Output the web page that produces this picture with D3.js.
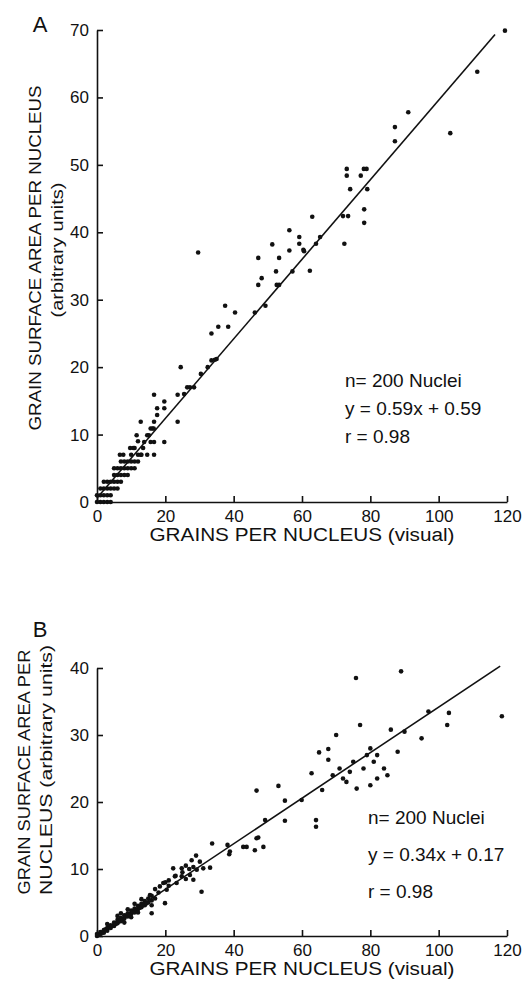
<!DOCTYPE html>
<html>
<head lang="en">
    <meta charset="UTF-8">
    <script src="https://cdn.jsdelivr.net/npm/d3@7/dist/d3.min.js"></script>
    <style>
        body { margin: 0; background: #fff; }
        svg { display: block; font-family: "Liberation Sans", Arial, sans-serif; }
        .axis path, .axis line { stroke: #111; stroke-width: 1.6; }
        .axis text { font-size: 17px; fill: #111; }
    </style>
</head>
<body>
<svg width="527" height="989"></svg>
<script>
    // panel A: grains (visual) vs grain surface area
    var xTicks = [0, 20, 40, 60, 80, 100, 120];
    var yTicksA = [0, 10, 20, 30, 40, 50, 60, 70];
    var yTicksB = [0, 10, 20, 30, 40];

    var pointsA = [
        [0, 0], [1, 0], [1, 1], [2, 0], [2, 1], [2, 2], [3, 1], [3, 2], [3, 3], [4, 1], [4, 2], [4, 3],
        [5, 2], [5, 3], [5, 4], [6, 2], [6, 3], [6, 4], [7, 3], [7, 4], [7, 5], [8, 4], [8, 5], [8, 6],
        [9, 4], [9, 5], [9, 6], [10, 5], [10, 6], [11, 5], [11, 6], [12, 6], [12, 7], [13, 7], [3, 0],
        [4, 0], [6, 5], [1, 2], [0, 1], [2, 3], [5, 5], [7, 6], [10, 7], [11, 8], [12, 9],
        [6.7, 7], [7.7, 7], [12.8, 7], [14.7, 7], [16.7, 7], [9.7, 8], [10.6, 8], [13.5, 8],
        [13.8, 8.9], [15.7, 8.9], [16.7, 8.9], [19.7, 8.9], [11.6, 9.9], [14.7, 9.9], [15.2, 9.9],
        [15.7, 10.9], [16.2, 10.9], [16.6, 10.9], [12.8, 11.9], [16.7, 11.9], [17.6, 12.9],
        [17.6, 13.9], [19.7, 13.9], [19.7, 14.9], [16.7, 15.9], [23.6, 15.9], [23.6, 11.9],
        [25.5, 16], [26.4, 17], [27.2, 17], [28.4, 17], [24.5, 20], [30.4, 19], [32.4, 20],
        [33.5, 21], [34.5, 21.1], [35, 21.2], [33.5, 25], [35.5, 26], [38.4, 26], [37.5, 29.1],
        [40.4, 28.1], [29.6, 37], [46.2, 28.1], [49.3, 29.1], [48.2, 33.2], [47.2, 32.2],
        [52.6, 32.2], [53.3, 32.2], [52.4, 34.2], [57.2, 34.2], [62.3, 34.3], [47.2, 36.2],
        [53.3, 36.2], [51.3, 38.2], [56.3, 37.3], [60.6, 37.2], [59.2, 38.3], [59.2, 39.3],
        [56.3, 40.3], [64.1, 38.3], [65.3, 39.3], [63, 42.3], [72.4, 38.3], [72, 42.4],
        [73.5, 42.4], [78.2, 41.4], [78.2, 43.4], [74.1, 46.4], [79.1, 46.4], [73.1, 48.4],
        [73.1, 49.4], [77.2, 48.4], [78.1, 49.4], [78.9, 49.4], [87.2, 53.5], [87.2, 55.6],
        [91.1, 57.8], [103.4, 54.7], [111.3, 63.8], [119.4, 69.9], [60.4, 37.4]
    ];

    var pointsB = [
        [0, 0], [0, 0.3], [0.5, 0.2], [1, 0.3], [1, 0.6], [1.5, 0.5], [2, 0.5], [2, 0.9], [2.5, 1],
        [3, 0.8], [3, 1.2], [3.5, 1.3], [4, 1.2], [4, 1.6], [4.5, 1.5], [5, 1.5], [5, 2], [5.5, 1.8],
        [6, 1.9], [6, 2.4], [6.5, 2.2], [7, 2.2], [7, 2.7], [7.5, 2.5], [8, 2.6], [8, 3.1], [8.5, 3],
        [9, 2.9], [9, 3.4], [9.5, 3.2], [10, 3.3], [10, 3.8], [10.5, 3.6], [11, 3.5], [11, 4.1],
        [11.5, 3.9], [12, 4], [12, 4.5], [12.5, 4.2], [13, 4.3], [13, 4.8], [13.5, 4.6], [14, 4.6],
        [14, 5.2], [15, 5], [15, 5.6], [3, 1.8], [6, 3], [8, 2], [10, 2.8], [12, 3.5], [9, 4],
        [7, 3.4], [11, 4.8], [13, 5.5], [16, 5.3], [16, 6],
        [14.5, 4.9], [15.5, 6.1], [17, 5.6], [16, 4.6], [16, 3.4], [18.4, 7.4], [19.4, 7.9],
        [20.4, 6.9], [19.9, 4.9], [23.3, 7.9], [22.8, 8.9], [24.8, 8.9], [27.2, 9.1], [28.2, 8.4],
        [22.3, 10.1], [24.8, 10.1], [27.7, 11.3], [28.2, 10.3], [29.2, 9.9], [30.1, 11.1],
        [31.1, 10.1], [33.1, 10.2], [30.6, 6.6], [33.7, 13.8], [38.2, 13.6], [38.7, 12.2],
        [38.9, 12.6], [42.8, 13.3], [43.8, 13.3], [46.2, 12.8], [46.7, 14.6], [48.7, 13.3],
        [47.2, 14.7], [20, 8], [21, 7.5], [18, 6.5], [17, 7], [25, 9.5], [26, 10.5], [23, 9],
        [21, 8.3], [29, 12], [27, 10], [26, 8.5],
        [49.2, 17.3], [55, 17.2], [64.1, 17.3], [64.1, 16.3], [55, 20.2], [59.9, 20.3],
        [46.7, 21.7], [53.1, 22.4], [65.9, 21.8], [62.8, 24.3], [65, 27.4], [67.7, 27.9],
        [67.7, 26.3], [75.8, 38.5], [89, 39.5], [103, 33.3], [102.5, 31.5], [118.5, 32.8],
        [69, 24], [71, 25], [72, 23.5], [70, 30], [74, 24.5], [75, 26], [76, 22], [78, 25],
        [79, 27], [80, 28], [81, 26], [82, 23.5], [84, 25], [86, 30.8], [88, 27.5], [90, 30.5],
        [82, 27], [77, 31.5], [73, 23], [85, 24], [95, 29.5], [97, 33.5], [80, 22.5]
    ];

    var statsA = ['n= 200 Nuclei', 'y = 0.59x + 0.59', 'r = 0.98'];
    var statsB = ['n= 200 Nuclei', 'y = 0.34x + 0.17', 'r = 0.98'];
    var fitA = {slope: 0.59, intercept: 0.59, xmax: 116.5};
    var fitB = {slope: 0.34, intercept: 0.17, xmax: 118};

    var svg = d3.select('svg');

    function drawPanel(p) {
        var g = svg.append('g');
        var x = d3.scaleLinear().domain([0, 120]).range([97, 507]);
        var y = d3.scaleLinear().domain([0, p.ymax]).range([p.bottom, p.top]);

        g.append('g')
            .attr('class', 'axis')
            .attr('transform', 'translate(0,' + p.bottom + ')')
            .call(d3.axisBottom(x).tickValues(xTicks).tickSizeInner(-6).tickSizeOuter(0).tickPadding(6))
            .call(function (a) { a.selectAll('text').attr('dy', '0.8em'); });

        g.append('g')
            .attr('class', 'axis')
            .attr('transform', 'translate(97,0)')
            .call(d3.axisLeft(y).tickValues(p.yTicks).tickSizeInner(-6).tickSizeOuter(0).tickPadding(8));

        g.append('line')
            .attr('x1', x(0)).attr('y1', y(p.fit.intercept))
            .attr('x2', x(p.fit.xmax)).attr('y2', y(p.fit.slope * p.fit.xmax + p.fit.intercept))
            .attr('stroke', '#111').attr('stroke-width', 1.6);

        g.selectAll('.pt')
            .data(p.points)
            .enter()
            .append('circle')
            .attr('cx', function (d) { return x(d[0]); })
            .attr('cy', function (d) { return y(d[1]); })
            .attr('r', 2.3)
            .attr('fill', '#111');

        g.selectAll('.stat')
            .data(p.stats)
            .enter()
            .append('text')
            .text(function (d) { return d; })
            .attr('x', p.statX)
            .attr('y', function (d, i) { return p.statY + i * p.statGap; })
            .attr('font-size', 19)
            .attr('fill', '#111');

        g.append('text')
            .text('GRAINS PER NUCLEUS (visual)')
            .attr('x', 302).attr('y', p.bottom + 39)
            .attr('text-anchor', 'middle')
            .attr('font-size', 18)
            .attr('textLength', 305).attr('lengthAdjust', 'spacingAndGlyphs')
            .attr('fill', '#111');

        g.append('text')
            .text(p.letter)
            .attr('x', 40).attr('y', p.letterY)
            .attr('text-anchor', 'middle')
            .attr('font-size', 22)
            .attr('fill', '#111');

        p.titles.forEach(function (t) {
            g.append('text')
                .text(t.text)
                .attr('transform', 'translate(' + t.x + ',' + t.cy + ') rotate(-90)')
                .attr('text-anchor', 'middle')
                .attr('font-size', 17)
                .attr('textLength', t.len).attr('lengthAdjust', 'spacingAndGlyphs')
                .attr('fill', '#111');
        });
    }

    drawPanel({
        letter: 'A', letterY: 32, ymax: 70, top: 30, bottom: 502, yTicks: yTicksA,
        points: pointsA, fit: fitA, stats: statsA, statX: 345, statY: 387, statGap: 28,
        titles: [
            {text: 'GRAIN SURFACE AREA PER NUCLEUS', x: 41, cy: 258, len: 345},
            {text: '(arbitrary units)', x: 63, cy: 250, len: 135}
        ]
    });

    drawPanel({
        letter: 'B', letterY: 637, ymax: 40, top: 668, bottom: 936, yTicks: yTicksB,
        points: pointsB, fit: fitB, stats: statsB, statX: 368, statY: 824, statGap: 37,
        titles: [
            {text: 'GRAIN SURFACE AREA PER', x: 30, cy: 772, len: 245},
            {text: 'NUCLEUS (arbitrary units)', x: 52, cy: 770, len: 250}
        ]
    });
</script>
</body>
</html>
